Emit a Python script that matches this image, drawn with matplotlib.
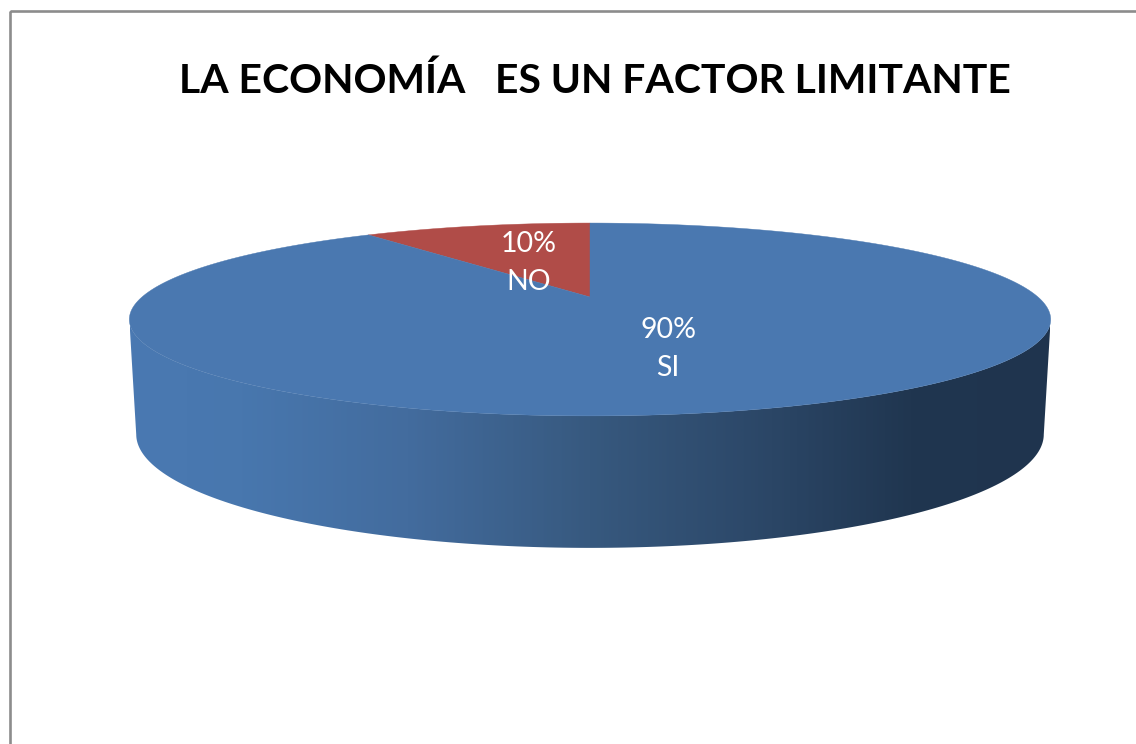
import matplotlib
matplotlib.use('Agg')
import matplotlib.pyplot as plt
import numpy as np
from matplotlib.colors import LinearSegmentedColormap
from matplotlib.patches import Polygon, Rectangle

title = "LA ECONOMÍA   ES UN FACTOR LIMITANTE"
names = ["NO", "SI"]
shares = [10, 90]
colors = ["#b04c48", "#4a78b0"]

# perspective of the tilted disc, in picture pixels
CX, CY, R = 590, 297, 448
TILT_A, TILT_C = -22, 0.233


def top_xy(deg):
    t = np.radians(deg)
    u, v = np.sin(t), np.cos(t)
    w = 1 + TILT_C * v
    return CX + R * u / w, (TILT_A * v + CY) / w


def bottom_xy(deg):
    x, y = top_xy(deg)
    return CX + 0.985 * (x - CX), 435 + 1.177 * (y - 320)


fig = plt.figure(figsize=(11.36, 7.44), dpi=100)
ax = fig.add_axes([0, 0, 1, 1])
ax.set_xlim(0, 1136)
ax.set_ylim(744, 0)
ax.axis('off')

# frame is cut off by the picture on the right and bottom
ax.add_patch(Rectangle((9.5, 11), 1200, 800, fill=False, ec="#8c8c8c", lw=1.9))

# side wall, front half of the disc
front = np.linspace(103.5, 256.5, 200)
tx, ty = top_xy(front)
bx, by = bottom_xy(front)
wall = Polygon(np.r_[np.c_[tx, ty], np.c_[bx, by][::-1]], closed=True, fc='none', ec='none')
ax.add_patch(wall)
shade = LinearSegmentedColormap.from_list('wall', [
    (0.0, "#4a79b2"), (0.12, "#4877ae"), (0.3, "#436c9e"), (0.5, "#37597f"),
    (0.7, "#2b4666"), (0.85, "#203650"), (1.0, "#1f344e")])
img = ax.imshow(np.linspace(0, 1, 400)[None, :], cmap=shade, extent=(130, 1050, 560, 300),
                aspect='auto', zorder=1)
img.set_clip_path(wall)
ax.set_xlim(0, 1136)
ax.set_ylim(744, 0)

# top face, slices run anticlockwise from 12 o'clock
start = 0
for name, share, col in zip(names, shares, colors):
    end = start - share * 3.6
    a = np.linspace(start, end, 300)
    x, y = top_xy(a)
    ax.add_patch(Polygon(np.r_[[[CX, CY]], np.c_[x, y]], closed=True, fc=col, ec=col, lw=0.3, zorder=2))
    start = end

ax.text(595, 93, title, ha='center', va='baseline', family='Lato', weight='bold', fontsize=29.4, color='black', zorder=3)

label_pos = [(529, 263), (668, 349)]
for name, share, pos in zip(names, shares, label_pos):
    ax.text(pos[0], pos[1], f"{share}%\n{name}", ha='center', va='center', family='Lato',
            fontsize=20.5, color='white', linespacing=1.55, zorder=3)

fig.savefig('out.png', dpi=100)
